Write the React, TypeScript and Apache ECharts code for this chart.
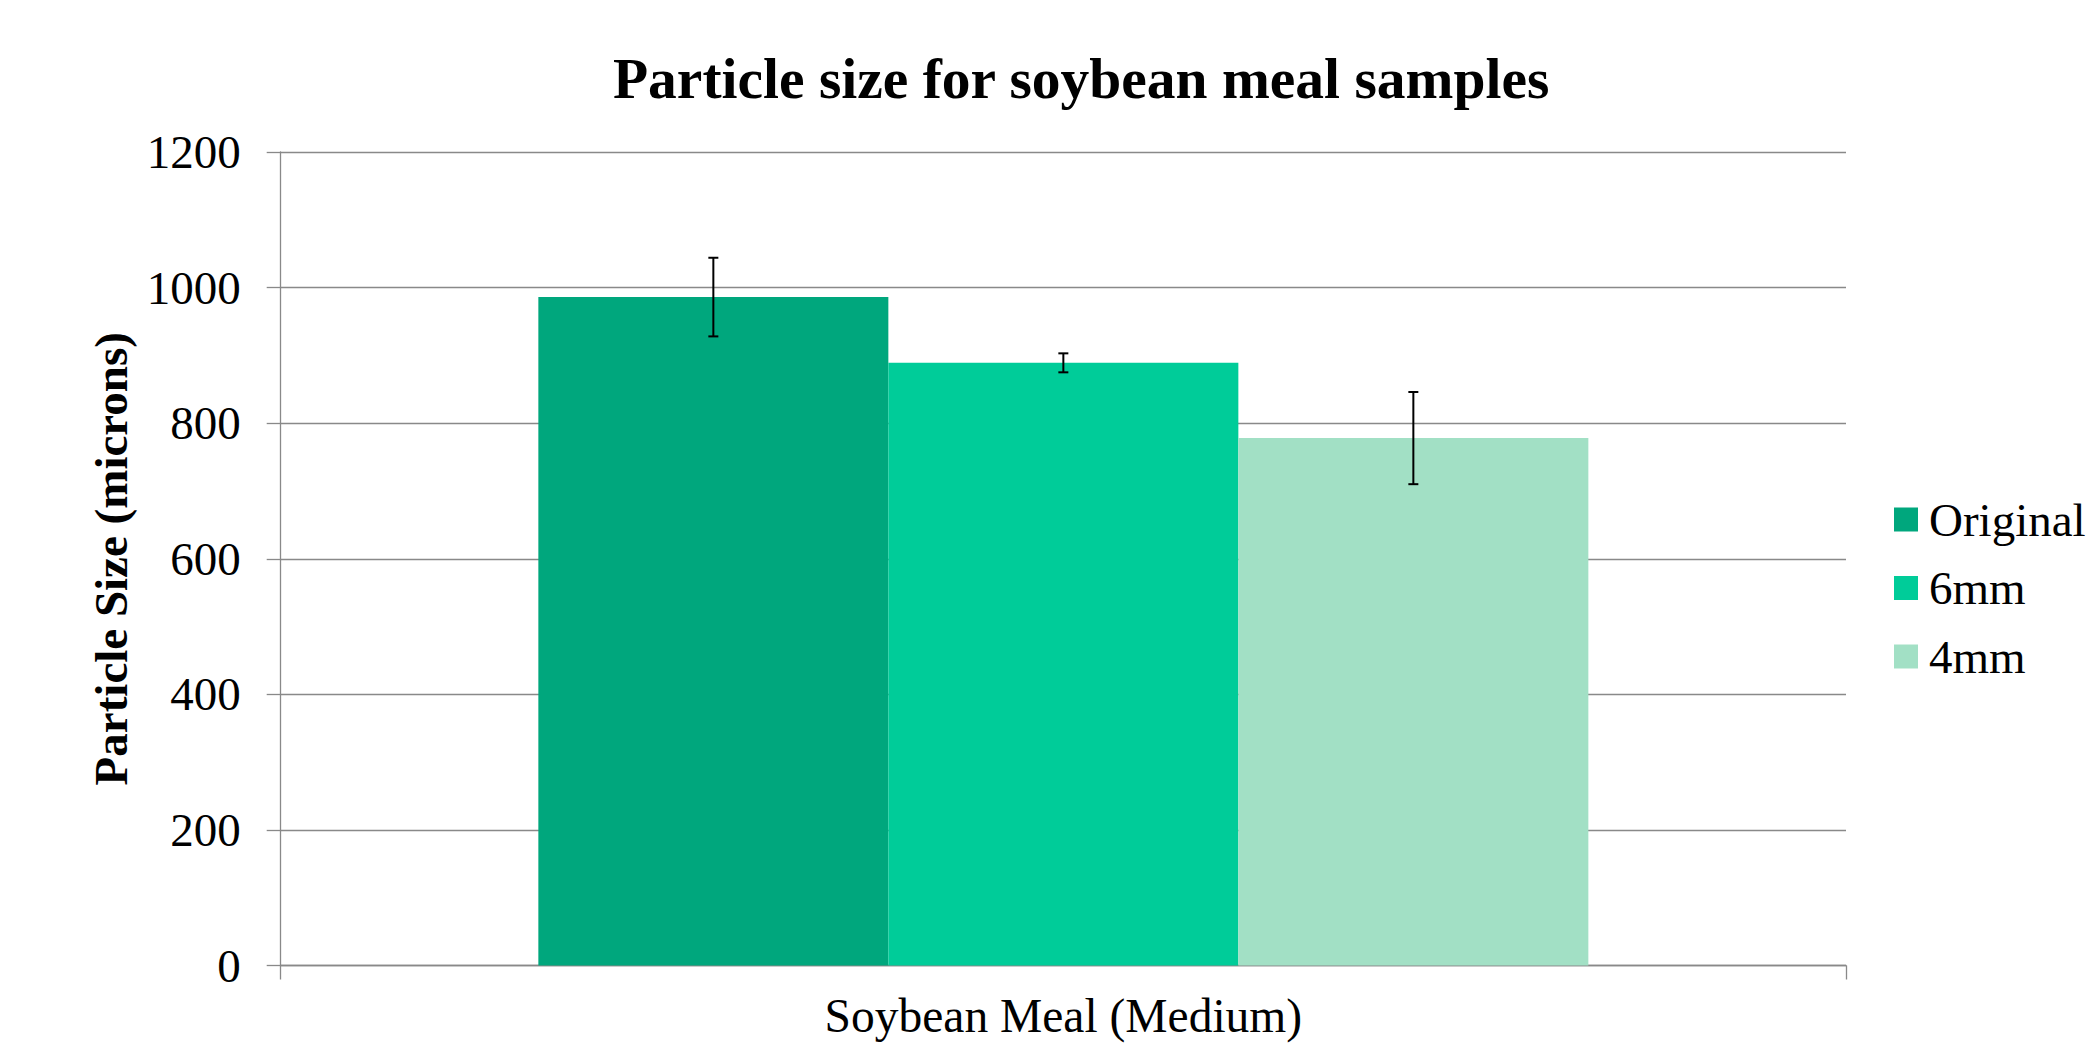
import React, { useEffect, useRef } from "react";
import * as echarts from "echarts";

const categories = ["Soybean Meal (Medium)"];
const seriesNames = ["Original", "6mm", "4mm"];
const originalValues = [986];
const mm6Values = [889];
const mm4Values = [778];
const originalErr = [58];
const mm6Err = [14];
const mm4Err = [68];
const yTicks = [0, 200, 400, 600, 800, 1000, 1200];

const colors = ["#00A77D", "#00CC99", "#A2E0C5"];
const FONT = "'Liberation Serif', 'Times New Roman', serif";
const BAR_PCT = 0.2236;

export default function App() {
  const ref = useRef<HTMLDivElement>(null);
  useEffect(() => {
    if (!ref.current) return;
    const chart = echarts.init(ref.current, undefined, { renderer: "svg" });
    const values = [originalValues, mm6Values, mm4Values];
    const errs = [originalErr, mm6Err, mm4Err];
    const errData: number[][] = [];
    values.forEach((vals, si) => {
      vals.forEach((v, ci) => {
        errData.push([ci, v - errs[si][ci], v + errs[si][ci], si]);
      });
    });
    chart.setOption({
      animation: false,
      backgroundColor: "#ffffff",
      title: {
        text: "Particle size for soybean meal samples",
        left: 613,
        top: 49,
        padding: 0,
        textStyle: { fontFamily: FONT, fontSize: 57.5, fontWeight: "bold", color: "#000" },
      },
      legend: {
        orient: "vertical",
        left: 1894,
        top: 496,
        padding: 0,
        itemWidth: 24,
        itemHeight: 24,
        itemGap: 21.5,
        icon: "rect",
        data: seriesNames,
        textStyle: { fontFamily: FONT, fontSize: 47, color: "#000", lineHeight: 47, padding: [0, 0, 0, 6] },
      },
      grid: { left: 280.7, right: 242, top: 152, bottom: 77.5, containLabel: false },
      xAxis: {
        type: "category",
        data: categories,
        axisLine: { show: true, lineStyle: { color: "#898989", width: 1.3 } },
        axisTick: { show: true, length: 14, alignWithLabel: false, lineStyle: { color: "#898989", width: 1.3 } },
        axisLabel: { fontFamily: FONT, fontSize: 47.5, lineHeight: 47, color: "#000", margin: 27 },
      },
      yAxis: {
        type: "value",
        min: yTicks[0],
        max: yTicks[yTicks.length - 1],
        interval: 200,
        name: "Particle Size (microns)",
        nameLocation: "middle",
        nameGap: 146,
        nameTextStyle: { fontFamily: FONT, fontSize: 47, fontWeight: "bold", color: "#000" },
        axisLine: { show: true, lineStyle: { color: "#898989", width: 1.3 } },
        axisTick: { show: true, length: 14, lineStyle: { color: "#898989", width: 1.3 } },
        splitLine: { show: true, lineStyle: { color: "#898989", width: 1.3 } },
        axisLabel: {
          fontFamily: FONT,
          fontSize: 47,
          color: "#000",
          margin: 40,
          formatter: (v: number) => String(v),
        },
      },
      series: [
        ...seriesNames.map((name, i) => ({
          name,
          type: "bar",
          data: values[i],
          barWidth: (BAR_PCT * 100).toFixed(2) + "%",
          barGap: "0%",
          itemStyle: { color: colors[i] },
        })),
        {
          name: "errors",
          type: "custom",
          data: errData,
          z: 10,
          renderItem: (params: any, api: any) => {
            const cat = api.value(0);
            const lo = api.value(1);
            const hi = api.value(2);
            const si = api.value(3);
            const bandW = api.size([1, 0])[0];
            const barW = bandW * BAR_PCT;
            const pLo = api.coord([cat, lo]);
            const pHi = api.coord([cat, hi]);
            const x = pLo[0] + (si - 1) * barW;
            const cap = 5;
            const style = { stroke: "#000", lineWidth: 2 };
            return {
              type: "group",
              children: [
                { type: "line", shape: { x1: x, y1: pLo[1], x2: x, y2: pHi[1] }, style },
                { type: "line", shape: { x1: x - cap, y1: pLo[1], x2: x + cap, y2: pLo[1] }, style },
                { type: "line", shape: { x1: x - cap, y1: pHi[1], x2: x + cap, y2: pHi[1] }, style },
              ],
            };
          },
        },
      ],
    });
    return () => chart.dispose();
  }, []);
  return (
    <div
      ref={ref}
      style={{ position: "fixed", left: 0, top: 0, width: 2088, height: 1043 }}
    />
  );
}
